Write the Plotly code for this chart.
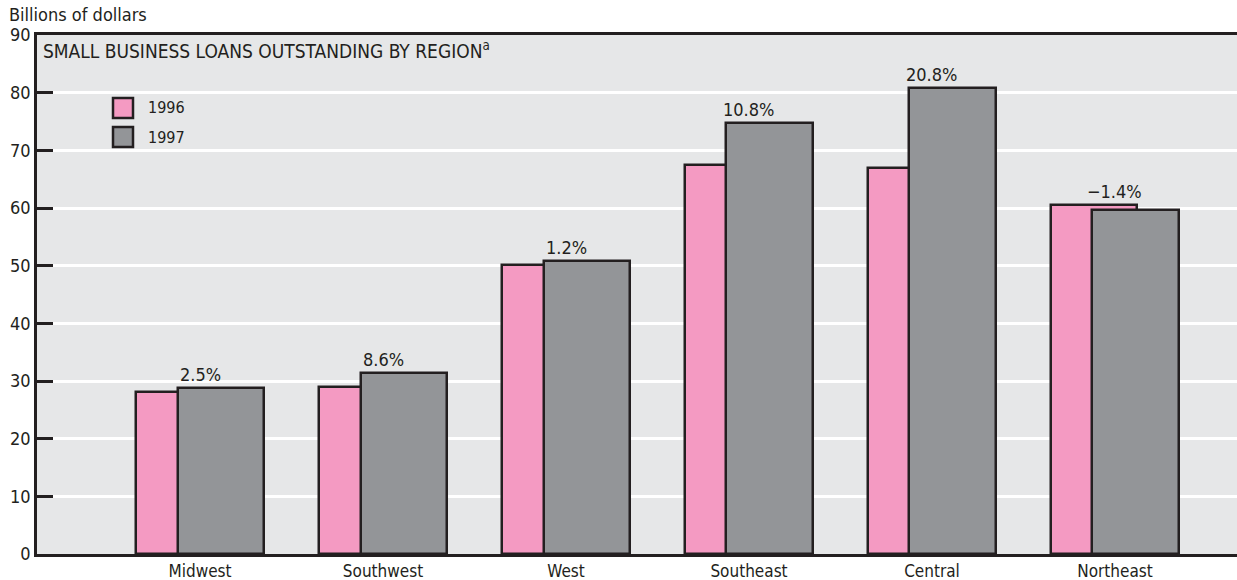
import plotly.graph_objects as go

# Small business loans outstanding, billions of dollars
regions = ["Midwest", "Southwest", "West", "Southeast", "Central", "Northeast"]
loans_1996 = [28.1, 28.9, 50.2, 67.4, 66.9, 60.5]
loans_1997 = [28.8, 31.4, 50.8, 74.7, 80.8, 59.6]
pct_change = ["2.5%", "8.6%", "1.2%", "10.8%", "20.8%", "\u22121.4%"]
y_ticks = [0, 10, 20, 30, 40, 50, 60, 70, 80, 90]

PINK = "#F49AC2"
GRAY = "#939598"
INK = "#231F20"
BG = "#E6E7E8"
FONT = "DejaVu Sans Condensed, Liberation Sans Narrow, sans-serif"

W, H = 1237, 580
L, R, T, B = 37, 0, 35, 26
pw, ph = W - L - R, H - T - B

x_idx = list(range(len(regions)))
bar_w = 0.475

fig = go.Figure()
fig.add_trace(go.Bar(
    x=x_idx, y=loans_1996, width=bar_w, offset=-0.352,
    marker=dict(color=PINK, line=dict(color=INK, width=2.5)),
    name="1996", showlegend=False, hoverinfo="skip",
))
fig.add_trace(go.Bar(
    x=x_idx, y=loans_1997, width=bar_w, offset=-0.123,
    marker=dict(color=GRAY, line=dict(color=INK, width=2.5)),
    name="1997", showlegend=False, hoverinfo="skip",
))

# Percent change labels above each region's bars
annotations = []
for i, (a, b, p) in enumerate(zip(loans_1996, loans_1997, pct_change)):
    annotations.append(dict(
        x=i, y=max(a, b), xref="x", yref="y", text=p, showarrow=False,
        yanchor="bottom", xanchor="center", yshift=1,
        font=dict(family=FONT, size=18, color=INK),
    ))

def px_x(px):
    return (px - L) / pw

def px_y(py):
    return (H - B - py) / ph

# Chart heading inside the plot area
annotations.append(dict(
    x=px_x(41), y=px_y(50), xref="paper", yref="paper",
    text="SMALL BUSINESS LOANS OUTSTANDING BY REGION<sup>a</sup>",
    showarrow=False, xanchor="left", yanchor="middle",
    font=dict(family=FONT, size=19, color=INK),
))
# Unit label above the y axis
annotations.append(dict(
    x=px_x(7), y=px_y(14), xref="paper", yref="paper",
    text="Billions of dollars", showarrow=False,
    xanchor="left", yanchor="middle",
    font=dict(family=FONT, size=18, color=INK),
))

# Legend swatches and labels
shapes = []
for label, color, yc in [("1996", PINK, 108), ("1997", GRAY, 137)]:
    shapes.append(dict(
        type="rect", xref="paper", yref="paper",
        x0=px_x(113), x1=px_x(133), y0=px_y(yc + 10), y1=px_y(yc - 10),
        fillcolor=color, line=dict(color=INK, width=2.5),
    ))
    annotations.append(dict(
        x=px_x(146), y=px_y(yc), xref="paper", yref="paper", text=label,
        showarrow=False, xanchor="left", yanchor="middle",
        font=dict(family=FONT, size=16, color=INK),
    ))

fig.update_layout(
    width=W, height=H,
    margin=dict(l=L, r=R, t=T, b=B, pad=0),
    paper_bgcolor="white", plot_bgcolor=BG,
    barmode="overlay", bargap=0,
    showlegend=False,
    annotations=annotations, shapes=shapes,
    font=dict(family=FONT, size=18, color=INK),
)
fig.update_xaxes(
    range=[-0.891, 5.667],
    tickmode="array", tickvals=x_idx, ticktext=regions,
    showgrid=False, zeroline=False,
    showline=True, linecolor=INK, linewidth=2.5, mirror=True,
    ticks="", tickfont=dict(family=FONT, size=17, color=INK),
    automargin=False, fixedrange=True,
)
fig.update_yaxes(
    range=[0, 90], tickmode="array", tickvals=y_ticks,
    showgrid=True, gridcolor="white", gridwidth=2.5, zeroline=False,
    showline=True, linecolor=INK, linewidth=2.5,
    ticks="inside", ticklen=16, tickwidth=2.5, tickcolor=INK,
    tickfont=dict(family=FONT, size=18, color=INK),
    automargin=False, fixedrange=True,
)

fig.write_html("out.html")
